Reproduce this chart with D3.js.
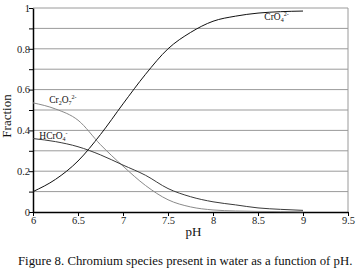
<!DOCTYPE html>
<html>
<head>
<meta charset="utf-8">
<script src="https://cdn.jsdelivr.net/npm/d3@7"></script>
<style>
    body { margin: 0; background: #fff; }
    svg { font-family: "Liberation Serif", "Times New Roman", serif; }
</style>
</head>
<body>
<svg id="drawing_region"></svg>
<script>
const ph     = [6, 6.25, 6.5, 6.75, 7, 7.25, 7.5, 7.75, 8, 8.25, 8.5, 8.75, 9];
const cro4   = [0.10, 0.16, 0.25, 0.38, 0.53, 0.675, 0.80, 0.88, 0.935, 0.96, 0.975, 0.982, 0.985];
const cr2o7  = [0.535, 0.505, 0.45, 0.33, 0.225, 0.13, 0.06, 0.025, 0.01, 0.005, 0.003, 0.002, 0.001];
const hcro4  = [0.36, 0.345, 0.32, 0.28, 0.23, 0.18, 0.115, 0.075, 0.05, 0.035, 0.02, 0.013, 0.008];

const x_ticks = [6, 6.5, 7, 7.5, 8, 8.5, 9, 9.5];
const y_ticks = [0, 0.1, 0.2, 0.3, 0.4, 0.5, 0.6, 0.7, 0.8, 0.9, 1];
const y_labels = ["0", "", "0.2", "", "0.4", "", "0.6", "", "0.8", "", "1"];

const config = {
    parent: '#drawing_region',
    width: 359,
    height: 271,
    margin: {top: 8, right: 11, bottom: 59, left: 33}
};

const svg = d3.select(config.parent)
    .attr("width", config.width)
    .attr("height", config.height);

const chart = svg.append("g")
    .attr("transform", `translate(${config.margin.left},${config.margin.top})`);

const inner_width  = config.width  - config.margin.left - config.margin.right;
const inner_height = config.height - config.margin.top  - config.margin.bottom;

const xscale = d3.scaleLinear().domain([6, 9.5]).range([0, inner_width]);
const yscale = d3.scaleLinear().domain([0, 1]).range([inner_height, 0]);

// grid lines
chart.selectAll(".grid")
    .data(y_ticks.filter(d => d > 0))
    .enter()
    .append("line")
    .attr("x1", 0)
    .attr("x2", inner_width)
    .attr("y1", d => yscale(d))
    .attr("y2", d => yscale(d))
    .attr("stroke", "#9a9a9a")
    .attr("stroke-width", 1);

chart.append("line")
    .attr("x1", inner_width).attr("x2", inner_width)
    .attr("y1", yscale(1)).attr("y2", yscale(0))
    .attr("stroke", "#9a9a9a");

// axes
const xaxis = d3.axisBottom(xscale).tickValues(x_ticks).tickFormat(d3.format("")).tickSize(4).tickSizeOuter(0);
const yaxis = d3.axisLeft(yscale).tickValues(y_ticks).tickFormat((d, i) => y_labels[i]).tickSize(4).tickSizeOuter(0);

const xg = chart.append("g")
    .attr("transform", `translate(0,${inner_height})`)
    .call(xaxis);
const yg = chart.append("g").call(yaxis);

[xg, yg].forEach(g => {
    g.select(".domain").attr("stroke", "#000").attr("stroke-width", 1.5);
    g.selectAll(".tick line").attr("stroke", "#000");
    g.selectAll(".tick text")
        .attr("font-family", "Liberation Serif, serif")
        .attr("font-size", 10.5)
        .attr("fill", "#222");
});
yg.selectAll(".tick text").attr("x", -3);
xg.selectAll(".tick text").attr("y", 5);

// curves
const series = [
    {values: cro4,  color: "#111", width: 1},
    {values: cr2o7, color: "#8a8a8a", width: 1},
    {values: hcro4, color: "#3a3a3a", width: 1}
];

const line = d3.line()
    .x((d, i) => xscale(ph[i]))
    .y(d => yscale(d))
    .curve(d3.curveMonotoneX);

chart.selectAll(".curve")
    .data(series)
    .enter()
    .append("path")
    .attr("d", d => line(d.values))
    .attr("fill", "none")
    .attr("stroke", d => d.color)
    .attr("stroke-width", d => d.width);

// species labels
function species(xp, yp, parts) {
    const t = chart.append("text")
        .attr("x", xscale(xp))
        .attr("y", yscale(yp))
        .attr("font-size", 9.5)
        .attr("fill", "#111");
    parts.forEach(p => {
        t.append("tspan")
            .attr("font-size", p.s ? 6 : 9.5)
            .attr("dy", p.dy || 0)
            .text(p.t);
    });
}
species(8.57, 0.94, [{t: "CrO"}, {t: "4", s: 1, dy: 2}, {t: "2-", s: 1, dy: -6}]);
species(6.18, 0.535, [{t: "Cr"}, {t: "2", s: 1, dy: 2}, {t: "O", dy: -2}, {t: "7", s: 1, dy: 2}, {t: "2-", s: 1, dy: -6}]);
species(6.07, 0.36, [{t: "HCrO"}, {t: "4", s: 1, dy: 2}, {t: "-", s: 1, dy: -6}]);

// axis titles
chart.append("text")
    .attr("x", inner_width / 2 + 3)
    .attr("y", inner_height + 24)
    .attr("text-anchor", "middle")
    .attr("font-size", 13)
    .attr("fill", "#111")
    .text("pH");

chart.append("text")
    .attr("transform", `translate(-22,${inner_height / 2 + 6}) rotate(-90)`)
    .attr("text-anchor", "middle")
    .attr("font-size", 13)
    .attr("fill", "#111")
    .text("Fraction");

svg.append("text")
    .attr("x", 18)
    .attr("y", 265)
    .attr("font-size", 12.8)
    .attr("fill", "#111")
    .text("Figure 8. Chromium species present in water as a function of pH.");
</script>
</body>
</html>
